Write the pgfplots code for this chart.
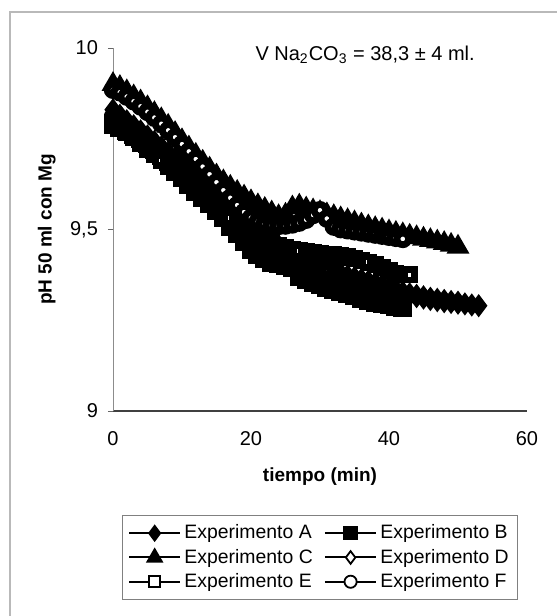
\documentclass[border=0pt]{standalone}
\usepackage{fontspec}
\setmainfont{Liberation Sans}
\usepackage{pgfplots}
\pgfplotsset{compat=1.18}
\usepackage{pgfplotstable}

\pgfplotstableread{
t pH
0 9.830
1 9.815
2 9.800
3 9.786
4 9.772
5 9.758
6 9.743
7 9.728
8 9.712
9 9.696
10 9.680
11 9.663
12 9.646
13 9.629
14 9.612
15 9.596
16 9.580
17 9.564
18 9.548
19 9.532
20 9.516
21 9.500
22 9.485
23 9.470
24 9.456
25 9.444
26 9.433
27 9.423
28 9.413
29 9.404
30 9.397
31 9.391
32 9.385
33 9.379
34 9.373
35 9.368
36 9.363
37 9.358
38 9.353
39 9.348
40 9.341
41 9.334
42 9.328
43 9.323
44 9.319
45 9.315
46 9.311
47 9.308
48 9.305
49 9.302
50 9.300
}\dataA

\pgfplotstableread{
t pH
0 9.790
1 9.782
2 9.773
3 9.762
4 9.750
5 9.736
6 9.720
7 9.703
8 9.686
9 9.666
10 9.645
11 9.623
12 9.605
13 9.588
14 9.570
15 9.553
16 9.533
17 9.508
18 9.488
19 9.466
20 9.445
21 9.430
22 9.420
23 9.410
24 9.405
25 9.400
26 9.395
27 9.370
28 9.362
29 9.355
30 9.348
31 9.341
32 9.335
33 9.329
34 9.323
35 9.317
36 9.311
37 9.305
38 9.300
39 9.296
40 9.292
41 9.288
42 9.285
}\dataB

\pgfplotstableread{
t pH
0 9.900
1 9.892
2 9.880
3 9.866
4 9.852
5 9.836
6 9.820
7 9.803
8 9.785
9 9.765
10 9.745
11 9.725
12 9.705
13 9.686
14 9.667
15 9.648
16 9.632
17 9.617
18 9.603
19 9.590
20 9.577
21 9.566
22 9.556
23 9.546
24 9.536
25 9.540
26 9.560
27 9.565
28 9.557
29 9.552
30 9.547
31 9.541
32 9.536
33 9.530
34 9.525
35 9.519
36 9.513
37 9.508
38 9.503
39 9.499
40 9.494
41 9.490
42 9.486
43 9.482
44 9.478
45 9.474
46 9.470
47 9.466
48 9.462
49 9.457
50 9.452
}\dataC

\pgfplotstableread{
t pH
0 9.820
1 9.806
2 9.792
3 9.778
4 9.763
5 9.748
6 9.732
7 9.716
8 9.700
9 9.684
10 9.667
11 9.650
12 9.633
13 9.616
14 9.599
15 9.582
16 9.566
17 9.549
18 9.533
19 9.517
20 9.501
21 9.486
22 9.471
23 9.457
24 9.445
25 9.436
26 9.427
27 9.418
28 9.409
29 9.400
30 9.392
31 9.386
32 9.380
33 9.374
34 9.368
35 9.363
36 9.358
37 9.353
38 9.348
39 9.343
40 9.337
41 9.330
42 9.324
43 9.319
44 9.315
45 9.311
46 9.307
47 9.304
48 9.301
49 9.299
50 9.297
51 9.295
52 9.292
53 9.290
}\dataD

\pgfplotstableread{
t pH
0 9.795
1 9.782
2 9.768
3 9.753
4 9.738
5 9.722
6 9.706
7 9.690
8 9.673
9 9.656
10 9.640
11 9.624
12 9.608
13 9.592
14 9.576
15 9.561
16 9.546
17 9.532
18 9.518
19 9.505
20 9.493
21 9.482
22 9.472
23 9.463
24 9.456
25 9.450
26 9.445
27 9.441
28 9.438
29 9.436
30 9.434
31 9.432
32 9.430
33 9.427
34 9.424
35 9.420
36 9.415
37 9.410
38 9.404
39 9.396
40 9.386
41 9.379
42 9.376
43 9.375
}\dataE

\pgfplotstableread{
t pH
0 9.885
1 9.878
2 9.866
3 9.853
4 9.839
5 9.824
6 9.808
7 9.791
8 9.773
9 9.754
10 9.735
11 9.715
12 9.694
13 9.673
14 9.652
15 9.630
16 9.608
17 9.587
18 9.567
19 9.548
20 9.532
21 9.522
22 9.515
23 9.511
24 9.510
25 9.511
26 9.514
27 9.519
28 9.527
29 9.540
30 9.553
31 9.530
32 9.508
33 9.501
34 9.498
35 9.495
36 9.492
37 9.489
38 9.486
39 9.483
40 9.480
41 9.477
42 9.474
}\dataF

\begin{document}
\begin{tikzpicture}
\path[use as bounding box] (0,0) rectangle (278.5pt,308pt);
\draw[gray!55, line width=0.6pt] (5pt,0pt) -- (5pt,302pt) -- (278.5pt,302pt);
\begin{axis}[
  at={(56.5pt,102.5pt)}, anchor=south west,
  scale only axis, width=207pt, height=181.5pt,
  xmin=0, xmax=60, ymin=9, ymax=10,
  clip=false,
  axis x line=bottom, axis y line=left,
  axis line style={-},
  x axis line style={black!75, line width=0.8pt},
  y axis line style={black!45, line width=0.4pt},
  xtick={0,20,40,60}, ytick={9,9.5,10},
  tick align=outside, major tick length=2.5pt,
  xtick style={draw=none},
  ytick style={black!60, line width=0.4pt},
  /pgf/number format/assume math mode=true,
  /pgf/number format/use comma,
  ticklabel style={font=\fontsize{10}{12}\selectfont},
  yticklabel style={xshift=-1.5pt},
  xticklabel style={yshift=-4pt},
  xlabel={\textbf{tiempo (min)}},
  ylabel={\textbf{pH 50 ml con Mg}},
  label style={font=\fontsize{9.5}{11}\selectfont},
  xlabel style={at={(axis description cs:0.5,-0.182)}, anchor=center},
  ylabel style={at={(axis description cs:-0.16,0.5)}, anchor=center},
  legend columns=2,
  legend cell align=left,
  legend style={
    at={(0.5,-0.2865)}, anchor=north,
    draw=black!50, line width=0.5pt, fill=white,
    font=\fontsize{9.7}{11}\selectfont,
    nodes={inner sep=1.6pt},
    row sep=0.4pt,
    /tikz/every even column/.append style={column sep=4pt},
    inner xsep=3pt, inner ysep=3pt,
  },
  legend image code/.code={
    \draw[#1, mark repeat=2, mark phase=2, line width=1pt]
      plot coordinates {(0cm,0cm) (0.45cm,0cm) (0.9cm,0cm)};
  },
  every axis plot/.append style={black, line width=1.4pt},
]
\addplot[mark=diamond*, mark size=4.6pt, mark options={solid, fill=black},
  legend image post style={line width=1pt, /tikz/every mark/.append style={scale=0.78}}] table[x=t,y=pH] {\dataA};
\addlegendentry{Experimento A}
\addplot[mark=square*, mark size=4pt, mark options={solid, fill=black},
  legend image post style={line width=1pt, /tikz/every mark/.append style={scale=0.78}}] table[x=t,y=pH] {\dataB};
\addlegendentry{Experimento B}
\addplot[mark=triangle*, mark size=5.2pt, mark options={solid, fill=black},
  legend image post style={line width=1pt, /tikz/every mark/.append style={scale=0.78}}] table[x=t,y=pH] {\dataC};
\addlegendentry{Experimento C}
\addplot[mark=diamond*, mark size=3pt, mark options={solid, fill=white, line width=3.4pt},
  legend image post style={line width=1pt, /tikz/every mark/.append style={line width=0.9pt, scale=1.05}}] table[x=t,y=pH] {\dataD};
\addlegendentry{Experimento D}
\addplot[mark=square*, mark size=2.6pt, mark options={solid, fill=white, line width=3.4pt},
  legend image post style={line width=1pt, /tikz/every mark/.append style={line width=0.9pt, scale=1.05}}] table[x=t,y=pH] {\dataE};
\addlegendentry{Experimento E}
\addplot[mark=*, mark size=2.9pt, mark options={solid, fill=white, line width=3.4pt},
  legend image post style={line width=1pt, /tikz/every mark/.append style={line width=0.9pt, scale=1.05}}] table[x=t,y=pH] {\dataF};
\addlegendentry{Experimento F}
\node[font=\fontsize{10}{12}\selectfont] at (rel axis cs:0.609,0.981)
  {V Na\textsubscript{2}CO\textsubscript{3} = 38,3 ± 4 ml.};
\end{axis}
\end{tikzpicture}
\end{document}
